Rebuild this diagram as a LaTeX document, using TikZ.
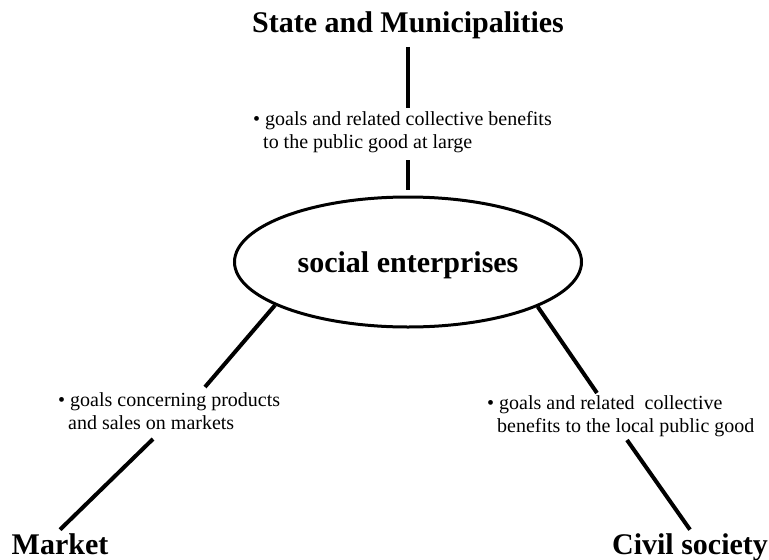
\documentclass[tikz,border=0pt]{standalone}
\usepackage{fontspec}
\setmainfont{Liberation Serif}
\usetikzlibrary{shapes.geometric}

\newcommand{\goalindent}{\hspace*{0.5em}}

\begin{document}
\begin{tikzpicture}[x=1pt,y=-1pt,
            big node/.style={font=\fontsize{30}{36}\selectfont\bfseries},
            goal node/.style={align=left,anchor=base west,inner sep=0pt,font=\fontsize{20}{22.5}\selectfont},
            link/.style={line width=4pt}]
            \useasboundingbox (0,0) rectangle (769,560);
            % actors
            \node[big node, anchor=base] (state) at (408,32) {State and Municipalities};
            \node[big node, ellipse, draw, line width=3pt, minimum width=347pt,
                  minimum height=130pt, inner sep=0pt, text depth=0pt] (se) at (408,262) {social enterprises};
            \node[big node, anchor=base] (market) at (60,554) {Market};
            \node[big node, anchor=base] (civil) at (690,554) {Civil society};
            % goals (anchored at the baseline of the second line)
            \node[goal node] (top) at (253,148) {\textbullet{} goals and related collective benefits\\\goalindent to the public good at large};
            \node[goal node] (left) at (58,429) {\textbullet{} goals concerning products\\\goalindent and sales on markets};
            \node[goal node] (right) at (487,432) {\textbullet{} goals and related\ \ collective\\\goalindent benefits to the local public good};
            % line ends at the goals
            \coordinate (t1) at (408,108);
            \coordinate (t2) at (408,160);
            \coordinate (l1) at (205,387);
            \coordinate (l2) at (153,439);
            \coordinate (r1) at (597,393);
            \coordinate (r2) at (627,440);
            \path[link]
            (state.south) edge[shorten <=5pt] (t1)
            (t2) edge[shorten >=6pt] (se.north)
            (se.198) edge (l1)
            (l2) edge (market.north)
            (se.341) edge (r1)
            (r2) edge (civil.north)
            ;
        \end{tikzpicture}
\end{document}
